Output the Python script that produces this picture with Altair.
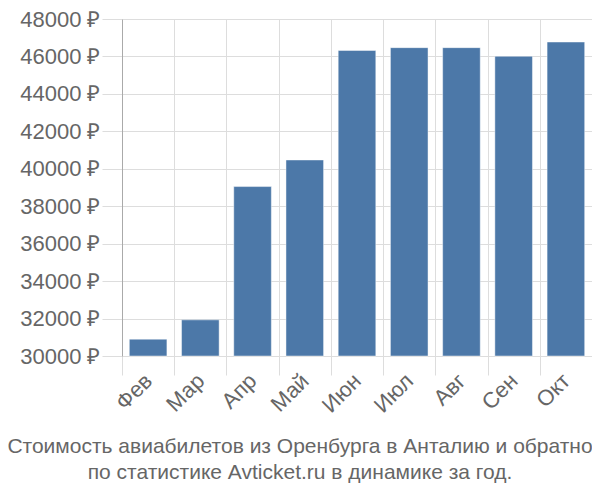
import altair as alt
import pandas as pd

months = ["Фев", "Мар", "Апр", "Май", "Июн", "Июл", "Авг", "Сен", "Окт"]
prices = [30900, 31930, 39050, 40470, 46320, 46470, 46470, 46010, 46770]
y_ticks = [30000, 32000, 34000, 36000, 38000, 40000, 42000, 44000, 46000, 48000]
title_lines = ["Стоимость авиабилетов из Оренбурга в Анталию и обратно",
               "по статистике Avticket.ru в динамике за год."]

df = pd.DataFrame({"month": months, "price": prices})

bars = alt.Chart(df).mark_bar(
    color="#4c78a8", stroke="#ffffff", strokeOpacity=0.45, strokeWidth=1,
    width=alt.RelativeBandSize(0.72),
).encode(
    x=alt.X("month:N", sort=months, title=None,
            scale=alt.Scale(paddingInner=0, paddingOuter=0),
            axis=alt.Axis(labelAngle=-45, labelAlign="right", labelBaseline="middle",
                          labelFontSize=22, labelColor="#666666", labelFont="Liberation Sans",
                          tickBand="extent", tickSize=19, tickColor="#dddddd", tickWidth=1,
                          grid=True, gridColor="#dddddd", domain=False, labelPadding=2)),
    y=alt.Y("price:Q", title=None,
            scale=alt.Scale(domain=[30000, 48000], zero=False, nice=False),
            axis=alt.Axis(values=y_ticks, labelExpr="datum.value + ' ₽'",
                          labelFontSize=22, labelColor="#666666", labelFont="Liberation Sans",
                          tickSize=20, tickColor="#dddddd", grid=True, gridColor="#dddddd",
                          domainColor="#aaaaaa", labelPadding=2)),
    y2=alt.datum(30000),
)

chart = bars.properties(
    width=470, height=337,
    padding={"left": 114, "top": 11, "right": 0, "bottom": 134},
    autosize=alt.AutoSizeParams(type="none"),
    title=alt.TitleParams(text=title_lines, orient="bottom", anchor="middle",
                          fontSize=21, font="Liberation Sans", fontWeight="normal",
                          color="#666666", offset=20, lineHeight=26, dx=-57),
).configure_view(stroke=None)

chart.save("out.html", embed_options={"renderer": "svg", "actions": False})
